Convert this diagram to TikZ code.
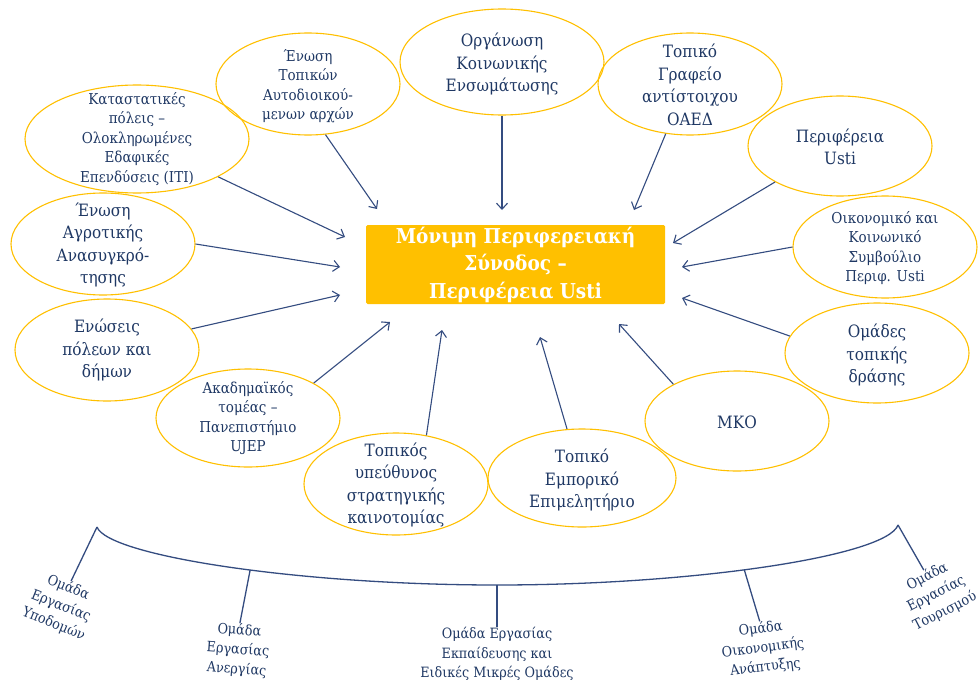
\documentclass[tikz,border=0pt]{standalone}
\usepackage{fontspec}
\setmainfont{DejaVu Serif}[FakeStretch=0.9]
\usetikzlibrary{shapes.geometric,arrows.meta}
\definecolor{navy}{RGB}{31,56,100}
\definecolor{linkblue}{RGB}{52,76,128}
\definecolor{gold}{RGB}{255,192,0}

\begin{document}
\begin{tikzpicture}[x=1pt,y=-1pt,
  oval/.style={ellipse, draw=gold, line width=1.1pt, inner sep=0pt,
               minimum width=184, minimum height=102},
  bigtxt/.style={text=navy, align=center, inner sep=0pt,
                 font=\fontsize{17}{22.5}\selectfont},
  smalltxt/.style={text=navy, align=center, inner sep=0pt,
                   font=\fontsize{15}{19.5}\selectfont},
  grouptxt/.style={text=navy, align=center, inner sep=0pt,
                   font=\fontsize{14.2}{19.5}\selectfont},
  link/.style={draw=linkblue, line width=1.1pt,
               -{Straight Barb[length=6pt,width=11pt,line width=1.1pt]}},
  brace/.style={draw=linkblue, line width=1.3pt},
  hub/.style={rectangle, fill=gold, rounded corners=1.5pt, inner sep=0pt,
              minimum width=299, minimum height=79, text=white, align=center,
              font=\bfseries\fontsize{20.5}{27.5}\selectfont}]

\useasboundingbox (0,0) rectangle (979,682);
\fill[white] (0,0) rectangle (979,682);

% central body
\node[hub] (hub) at (515.5,264.5) {Μόνιμη Περιφερειακή\\Σύνοδος –\\Περιφέρεια Usti};

% surrounding bodies (outlines)
\node[oval, minimum width=224, minimum height=108] (iti) at (137,139) {};
\node[oval] (enosi)  at (308,84)  {};
\node[oval, minimum width=204, minimum height=106] (org) at (502,62) {};
\node[oval] (oaed)   at (690,84)  {};
\node[oval, minimum height=100] (perif) at (840,146) {};
\node[oval] (oks)    at (885,247) {};
\node[oval, minimum height=100] (omades) at (877,353) {};
\node[oval, minimum height=100] (mko) at (737,421) {};
\node[oval, minimum width=188, minimum height=98] (emp) at (582,478) {};
\node[oval] (kain)   at (396,484) {};
\node[oval, minimum height=98] (akad) at (248,418) {};
\node[oval] (poleis) at (107,350) {};
\node[oval] (agrot)  at (103,244) {};

% labels of the bodies
\node[smalltxt] (itiT)   at (137,139) {Καταστατικές\\πόλεις –\\Ολοκληρωμένες\\Εδαφικές\\Επενδύσεις (ITI)};
\node[smalltxt] (enosiT) at (308,86)  {Ένωση\\Τοπικών\\Αυτοδιοικού-\\μενων αρχών};
\node[bigtxt]   (orgT)   at (502,64)  {Οργάνωση\\Κοινωνικής\\Ενσωμάτωσης};
\node[bigtxt]   (oaedT)  at (690,85)  {Τοπικό\\Γραφείο\\αντίστοιχου\\ΟΑΕΔ};
\node[bigtxt]   (perifT) at (840,147) {Περιφέρεια\\Usti};
\node[smalltxt] (oksT)   at (885,248) {Οικονομικό και\\Κοινωνικό\\Συμβούλιο\\Περιφ. Usti};
\node[bigtxt]   (omadesT) at (877,355) {Ομάδες\\τοπικής\\δράσης};
\node[bigtxt]   (mkoT)   at (737,422) {ΜΚΟ};
\node[bigtxt]   (empT)   at (582,480) {Τοπικό\\Εμπορικό\\Επιμελητήριο};
\node[bigtxt]   (kainT)  at (396,485) {Τοπικός\\υπεύθυνος\\στρατηγικής\\καινοτομίας};
\node[smalltxt] (akadT)  at (248,418) {Ακαδημαϊκός\\τομέας –\\Πανεπιστήμιο\\UJEP};
\node[bigtxt]   (poleisT) at (107,350) {Ενώσεις\\πόλεων και\\δήμων};
\node[bigtxt]   (agrotT) at (103,245) {Ένωση\\Αγροτικής\\Ανασυγκρό-\\τησης};

% arrow tips near the central body
\coordinate (t1)  at (345,237);
\coordinate (t2)  at (377,209);
\coordinate (t3)  at (502,210);
\coordinate (t4)  at (634,210);
\coordinate (t5)  at (673,243);
\coordinate (t6)  at (682,267);
\coordinate (t7)  at (682,298);
\coordinate (t8)  at (619,324);
\coordinate (t9)  at (540,337);
\coordinate (t10) at (442,330);
\coordinate (t11) at (390,322);
\coordinate (t12) at (340,295);
\coordinate (t13) at (340,267);

\draw[link] (iti.-25.4)    -- (t1);
\draw[link] (enosi.-71.6)  -- (t2);
\draw[link] (org.south)    -- (t3);
\draw[link] (oaed.-116.1)  -- (t4);
\draw[link] (perif.-151.7) -- (t5);
\draw[link] (oks.west)     -- (t6);
\draw[link] (omades.169.6) -- (t7);
\draw[link] (mko.150.3)    -- (t8);
\draw[link] (emp.107.4)    -- (t9);
\draw[link] (kain.58.5)    -- (t10);
\draw[link] (akad.28.6)    -- (t11);
\draw[link] (poleis.14)    -- (t12);
\draw[link] (agrot.east)   -- (t13);

% working groups
\node[grouptxt, rotate=-22] (g1) at (61,606)  {Ομάδα\\Εργασίας\\Υποδομών};
\node[grouptxt, rotate=-4]  (g2) at (238,650) {Ομάδα\\Εργασίας\\Ανεργίας};
\node[grouptxt]             (g3) at (497,654) {Ομάδα Εργασίας\\Εκπαίδευσης και\\Ειδικές Μικρές Ομάδες};
\node[grouptxt, rotate=7]   (g4) at (763,648) {Ομάδα\\Οικονομικής\\Ανάπτυξης};
\node[grouptxt, rotate=27]  (g5) at (936,594) {Ομάδα\\Εργασίας\\Τουρισμού};

% the bracket joining the groups
\coordinate (bl) at (97,527);
\coordinate (bm) at (497,585);
\coordinate (br) at (898,525);
\draw[brace] (bl) .. controls (108,556) and (300,585) .. coordinate[pos=0.55] (b2) (bm)
                  .. controls (694,585) and (887,556) .. coordinate[pos=0.45] (b4) (br);
\draw[brace] (bl) -- (g1.north);
\draw[brace] (b2) -- (g2.north);
\draw[brace] (bm) -- (g3.north);
\draw[brace] (b4) -- (g4.north);
\draw[brace] (br) -- (g5.north);
\end{tikzpicture}
\end{document}
